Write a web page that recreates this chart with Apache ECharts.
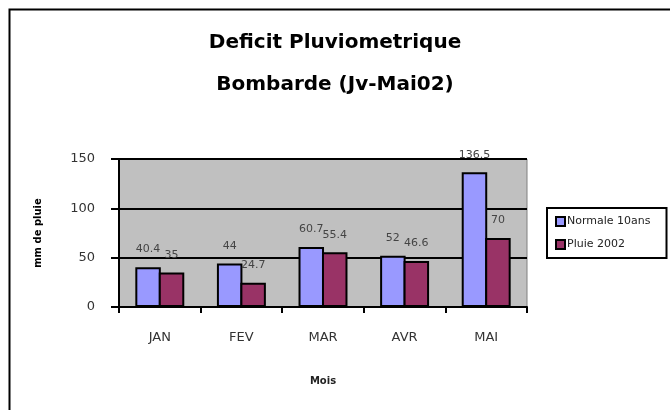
<!DOCTYPE html>
<html>
<head>
<meta charset="utf-8">
<script src="https://cdn.jsdelivr.net/npm/echarts@6/dist/echarts.min.js"></script>
<style>
  html, body { margin: 0; padding: 0; background: #fff; }
  #chart-dom { width: 670px; height: 410px; }
</style>
</head>
<body>
<div id="chart-dom"></div>
<script>
// donnees
const mois = ['JAN', 'FEV', 'MAR', 'AVR', 'MAI'];
const normale10ans = [40.4, 44, 60.7, 52, 136.5];
const pluie2002 = [35, 24.7, 55.4, 46.6, 70];
const serieNames = ['Normale 10ans', 'Pluie 2002'];

const myChart = echarts.init(document.getElementById('chart-dom'));

const labelStyle = {
  show: true,
  position: 'top',
  distance: 12,
  color: '#444',
  fontSize: 11,
  fontFamily: 'DejaVu Sans'
};

const option = {
  animation: false,
  backgroundColor: '#fff',
  // cadre autour du graphique
  graphic: [{
    type: 'rect',
    left: 7,
    top: 7,
    shape: { width: 700, height: 450 },
    style: { fill: 'none', stroke: '#000', lineWidth: 2 },
    silent: true
  }],
  title: {
    text: 'Deficit Pluviometrique\nBombarde (Jv-Mai02)',
    left: 'center',
    top: 17,
    textStyle: {
      fontFamily: 'DejaVu Sans',
      fontSize: 20,
      fontWeight: 'bold',
      color: '#000',
      lineHeight: 42
    }
  },
  legend: {
    orient: 'vertical',
    left: 547,
    top: 208,
    itemWidth: 9,
    itemHeight: 9,
    itemGap: 12,
    padding: [8, 16, 8, 8],
    borderColor: '#000',
    borderWidth: 2,
    icon: 'rect',
    textStyle: { fontFamily: 'DejaVu Sans', fontSize: 11, color: '#222', padding: [0, 0, 0, -3] },
    data: serieNames
  },
  grid: {
    left: 119,
    right: 143,
    top: 159,
    bottom: 103,
    show: true,
    backgroundColor: '#c0c0c0',
    borderColor: '#808080',
    borderWidth: 1
  },
  xAxis: {
    type: 'category',
    data: mois,
    name: 'Mois',
    nameLocation: 'middle',
    nameGap: 69,
    nameTextStyle: { fontFamily: 'DejaVu Sans', fontSize: 10, fontWeight: 'bold', color: '#222' },
    axisLine: { lineStyle: { color: '#000', width: 2 } },
    axisTick: { show: true, length: 6, lineStyle: { color: '#000', width: 2 } },
    axisLabel: { margin: 24, fontFamily: 'DejaVu Sans', fontSize: 13, color: '#333' }
  },
  yAxis: {
    type: 'value',
    min: 0,
    max: 150,
    interval: 50,
    name: 'mm de pluie',
    nameLocation: 'middle',
    nameGap: 76,
    nameRotate: 90,
    nameTextStyle: { fontFamily: 'DejaVu Sans', fontSize: 10, fontWeight: 'bold', color: '#000' },
    axisLine: { show: true, lineStyle: { color: '#000', width: 2 } },
    axisTick: { show: true, length: 8, lineStyle: { color: '#000', width: 2 } },
    axisLabel: { margin: 24, fontFamily: 'DejaVu Sans', fontSize: 13, color: '#333' },
    splitLine: { show: true, lineStyle: { color: '#000', width: 2 } }
  },
  series: [
    {
      name: serieNames[0],
      type: 'bar',
      data: normale10ans,
      barGap: '-8%',
      barCategoryGap: '40%',
      itemStyle: { color: '#9999ff', borderColor: '#000', borderWidth: 2 },
      label: labelStyle
    },
    {
      name: serieNames[1],
      type: 'bar',
      data: pluie2002,
      itemStyle: { color: '#993366', borderColor: '#000', borderWidth: 2 },
      label: labelStyle
    }
  ]
};
myChart.setOption(option, true);
</script>
</body>
</html>
